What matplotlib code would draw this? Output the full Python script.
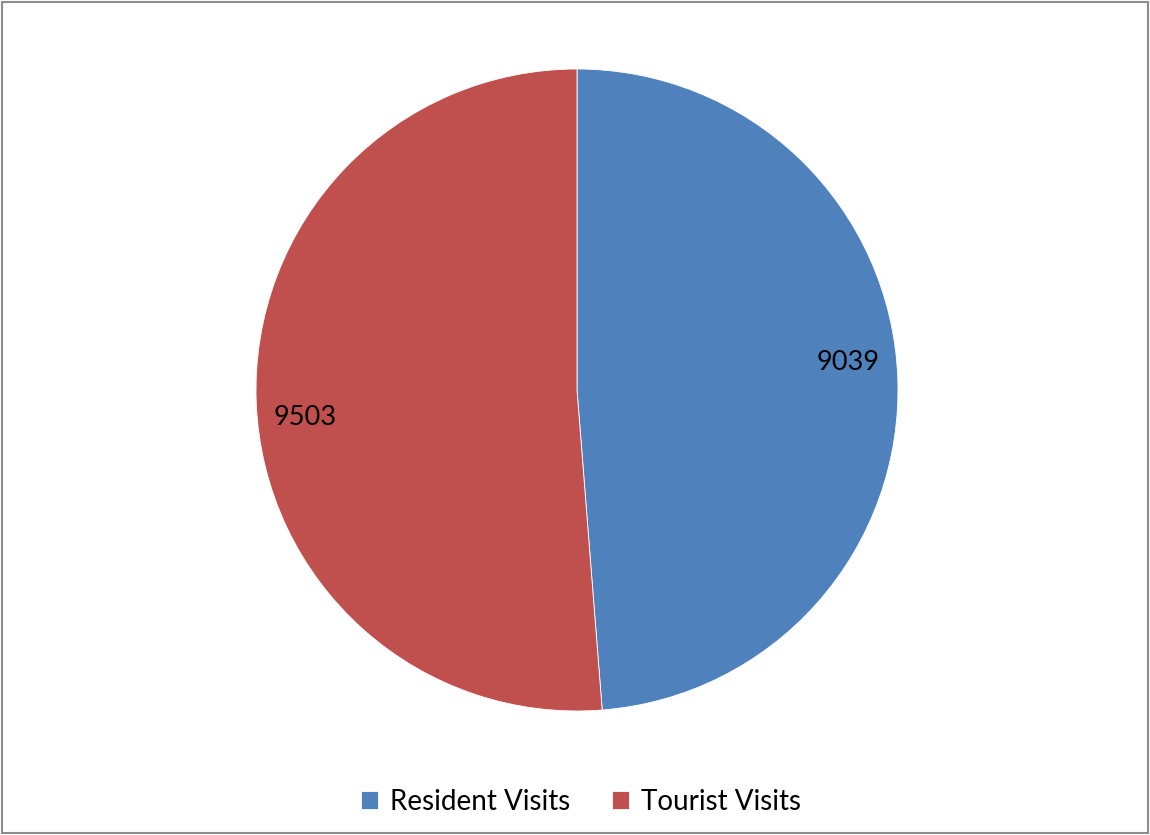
import numpy as np
import matplotlib.pyplot as plt
from matplotlib.patches import Rectangle

# data
categories = ["Resident Visits", "Tourist Visits"]
visits = [9039, 9503]
colors = ["#4F81BD", "#C0504D"]

plt.rcParams['font.family'] = ['Lato', 'DejaVu Sans']

W, H = 1150, 835
fig = plt.figure(figsize=(W / 100, H / 100), dpi=100)

# pie centre (577, 390) px, radius 321 px
cx, cy, r = 577, 390, 321
ax = fig.add_axes([(cx - r) / W, (H - cy - r) / H, 2 * r / W, 2 * r / H])

wedges, texts, autotexts = ax.pie(
    visits, colors=colors, startangle=90, counterclock=False,
    autopct=lambda p: f"{p * sum(visits) / 100:.0f}", pctdistance=0.85,
    wedgeprops=dict(edgecolor="white", linewidth=0.6),
    textprops=dict(fontsize=19.5, color="black"),
)
ax.set_xlim(-1, 1)
ax.set_ylim(-1, 1)

# nudge value labels a few degrees counter-clockwise, like Excel's placement
rot = np.deg2rad(3.6)
for t in autotexts:
    x, y = t.get_position()
    t.set_position((x * np.cos(rot) - y * np.sin(rot), x * np.sin(rot) + y * np.cos(rot)))

leg = fig.legend(wedges, categories, loc="center", bbox_to_anchor=(581 / W, 1 - 802 / H),
                 ncol=2, frameon=False, fontsize=20, handlelength=0.6, handleheight=0.6,
                 handletextpad=0.45, columnspacing=1.5)

# outer border
fig.patches.append(Rectangle((0.002, 0.002), 0.996, 0.996, transform=fig.transFigure,
                             fill=False, edgecolor="#8c8c8c", linewidth=1.5))

fig.savefig("out.png", dpi=100)
